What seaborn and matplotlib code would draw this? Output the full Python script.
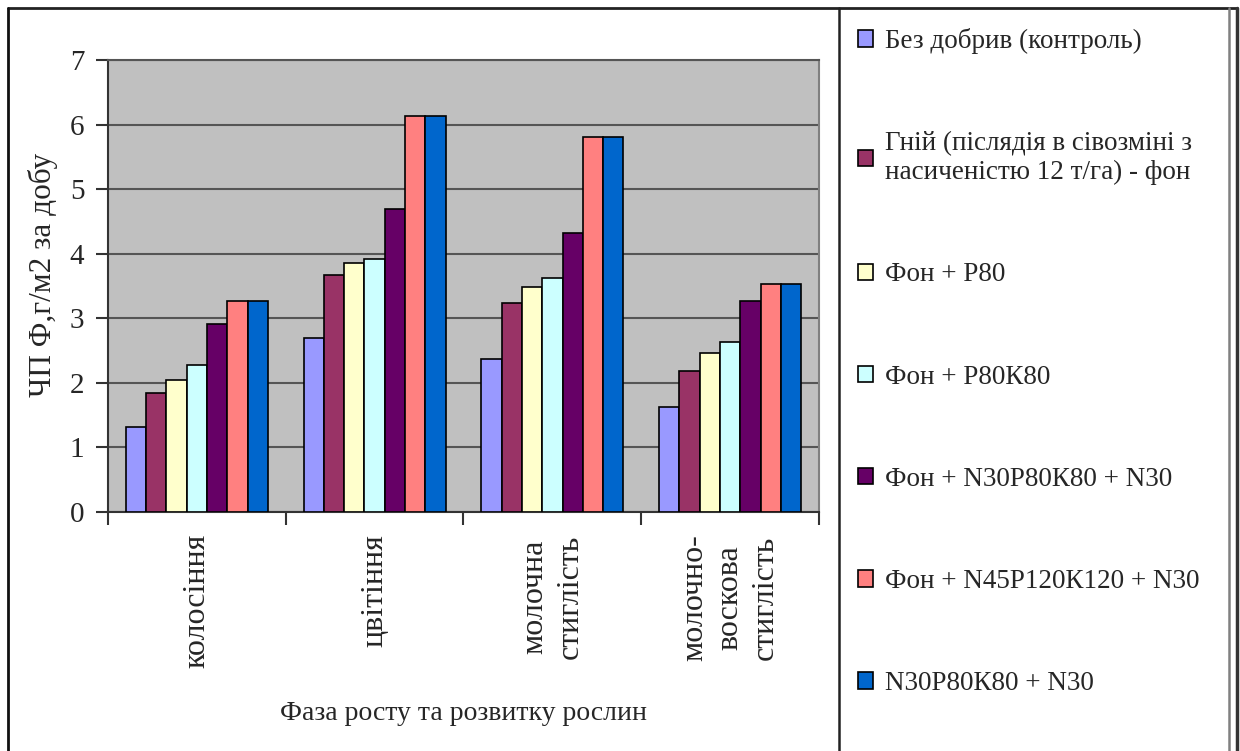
import matplotlib
matplotlib.use("Agg")
import matplotlib.pyplot as plt
from matplotlib.lines import Line2D
import seaborn as sns
import pandas as pd

phases = ["колосіння", "цвітіння", "молочна\nстиглість", "молочно-\nвоскова\nстиглість"]
series = [
    "Без добрив (контроль)",
    "Гній (післядія в сівозміні з\nнасиченістю 12 т/га) - фон",
    "Фон + Р80",
    "Фон + Р80К80",
    "Фон + N30Р80К80 + N30",
    "Фон + N45Р120К120 + N30",
    "N30Р80К80 + N30",
]
v_control = [1.32, 2.70, 2.37, 1.62]
v_manure = [1.85, 3.67, 3.24, 2.18]
v_p80 = [2.04, 3.86, 3.49, 2.47]
v_p80k80 = [2.28, 3.92, 3.62, 2.64]
v_n30 = [2.91, 4.69, 4.32, 3.26]
v_n45 = [3.26, 6.13, 5.80, 3.53]
v_n30only = [3.26, 6.13, 5.80, 3.53]
colors = ["#9999FF", "#993366", "#FFFFCC", "#CCFFFF", "#660066", "#FF8080", "#0066CC"]

all_vals = [v_control, v_manure, v_p80, v_p80k80, v_n30, v_n45, v_n30only]
rows = []
for s, vals in zip(series, all_vals):
    for p, v in zip(phases, vals):
        rows.append({"phase": p, "series": s, "value": v})
df = pd.DataFrame(rows)

sns.set_style("white")
plt.rcParams["font.family"] = ["Liberation Serif", "DejaVu Serif"]

W, H = 1240, 751
fig = plt.figure(figsize=(W / 100, H / 100), dpi=100)
ax = fig.add_axes([108 / W, 1 - 512 / H, (819 - 108) / W, (512 - 60) / H])
ax.set_facecolor("#C0C0C0")

sns.barplot(data=df, x="phase", y="value", hue="series", order=phases,
            hue_order=series, palette=colors, saturation=1, width=0.8,
            edgecolor="black", linewidth=1.2, ax=ax, zorder=3)

handles, labels = ax.get_legend_handles_labels()
if ax.get_legend() is not None:
    ax.get_legend().remove()

ax.set_ylim(0, 7)
ax.set_xlim(-0.5, 3.5)
ax.set_yticks(range(0, 8))
ax.yaxis.grid(True, color="#555555", linewidth=1.5, zorder=0)
ax.set_axisbelow(True)

ax.tick_params(axis="y", length=9, width=1.5, color="#333333", labelsize=21, pad=8,
               direction="out", left=True)
ax.set_xticks(range(len(phases)))
ax.set_xticklabels(phases, rotation=90, fontsize=23, va="top", ha="center",
                   multialignment="center", linespacing=1.3)
ax.tick_params(axis="x", which="major", length=0, pad=16)
ax.set_xticks([-0.5, 0.5, 1.5, 2.5, 3.5], minor=True)
ax.tick_params(axis="x", which="minor", length=9, width=1.5, color="#333333",
               direction="out", bottom=True)

for side in ["left", "bottom"]:
    ax.spines[side].set_color("#333333")
    ax.spines[side].set_linewidth(1.5)
ax.spines["right"].set_color("#808080")
ax.spines["right"].set_linewidth(1.5)
ax.spines["top"].set_color("#555555")
ax.spines["top"].set_linewidth(1.5)

ax.set_xlabel("Фаза росту та розвитку рослин", fontsize=20)
ax.xaxis.set_label_coords(0.5, -(713 - 512) / 452, transform=ax.transAxes)
ax.xaxis.label.set_va("center")
ax.set_ylabel("ЧП Ф,г/м2 за добу", fontsize=22.5)
ax.yaxis.set_label_coords(-(108 - 58) / 711, (512 - 275) / 452)

leg = fig.legend(handles, labels, loc="upper left",
                 bbox_to_anchor=(858 / W, 1 - 28 / H), frameon=False,
                 fontsize=19.5, labelspacing=2.85, handlelength=0.55,
                 handleheight=0.55, handletextpad=0.45, borderpad=0,
                 borderaxespad=0)
for patch in leg.get_patches():
    patch.set_edgecolor("black")
    patch.set_linewidth(1.2)

def fline(x0, y0, x1, y1, color, lw):
    fig.add_artist(Line2D([x0 / W, x1 / W], [1 - y0 / H, 1 - y1 / H],
                          transform=fig.transFigure, color=color, linewidth=lw))

fline(8, 8, 1237, 8, "#222222", 2)
fline(8, 8, 8, H, "#111111", 2)
fline(839, 8, 839, H, "#222222", 1.8)
fline(1229, 8, 1229, H, "#808080", 1.8)
fline(1237, 8, 1237, H, "#333333", 2.5)

fig.savefig("out.png", dpi=100)
